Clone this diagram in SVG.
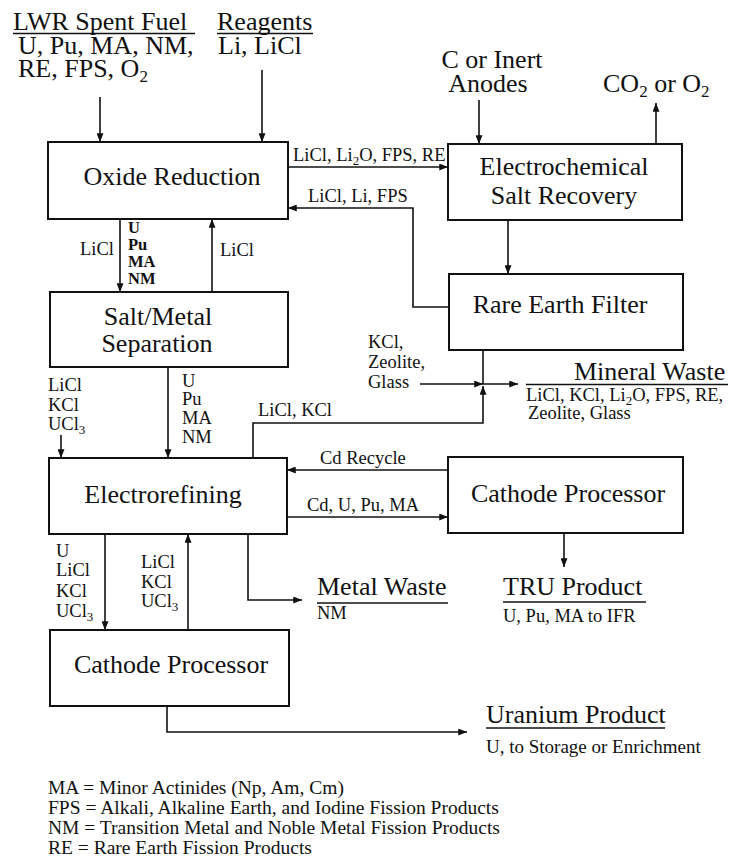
<svg xmlns="http://www.w3.org/2000/svg" width="737" height="866" viewBox="0 0 737 866">
<style>
text{font-family:"Liberation Serif","Times New Roman",serif;fill:#111}
.big{font-size:26px}
.box{font-size:26px;text-anchor:middle}
.sm{font-size:18.5px}
.b{font-size:16.5px;font-weight:bold}
.lg{font-size:19.5px}
rect{fill:#fff;stroke:#111;stroke-width:2}
.c line,.c path,.c polyline{fill:none;stroke:#111;stroke-width:1.6}
.ul{stroke:#111;stroke-width:1.6}
</style>
<defs>
<marker id="a" viewBox="0 0 10 8" refX="10" refY="4" markerWidth="9" markerHeight="7" markerUnits="userSpaceOnUse" orient="auto">
<path d="M0,0 L10,4 L0,8 z" fill="#111"/>
</marker>
</defs>
<g id="inputs">
<text class="big" x="13" y="30">LWR Spent Fuel</text>
<line class="ul" x1="13" y1="33.5" x2="195" y2="33.5"/>
<text class="big" x="18" y="54">U, Pu, MA, NM,</text>
<text class="big" x="18" y="77">RE, FPS, O<tspan font-size="17" dy="5">2</tspan></text>
<text class="big" x="217" y="30">Reagents</text>
<line class="ul" x1="217" y1="33.5" x2="313" y2="33.5"/>
<text class="big" x="218" y="54">Li, LiCl</text>
<text class="big" x="492" y="68" text-anchor="middle">C or Inert</text>
<text class="big" x="488" y="92" text-anchor="middle">Anodes</text>
<text class="big" x="603" y="92">CO<tspan font-size="17" dy="5">2</tspan><tspan dy="-5"> or O</tspan><tspan font-size="17" dy="5">2</tspan></text>
</g>
<g id="oxide-reduction"><rect x="48" y="142" width="240" height="77"/><text class="box" x="172" y="185">Oxide Reduction</text></g>
<g id="electrochemical-salt-recovery"><rect x="448" y="144" width="234" height="76"/><text class="box" x="564" y="175">Electrochemical</text><text class="box" x="564" y="204">Salt Recovery</text></g>
<g id="rare-earth-filter"><rect x="449" y="274" width="234" height="76"/><text class="box" x="560" y="313">Rare Earth Filter</text></g>
<g id="salt-metal-separation"><rect x="50" y="292" width="238" height="75"/><text class="box" x="158" y="325">Salt/Metal</text><text class="box" x="157" y="352">Separation</text></g>
<g id="electrorefining"><rect x="49" y="458" width="238" height="76"/><text class="box" x="163" y="503">Electrorefining</text></g>
<g id="cathode-processor-tru"><rect x="448" y="457" width="235" height="76"/><text class="box" x="568" y="502">Cathode Processor</text></g>
<g id="cathode-processor-u"><rect x="50" y="630" width="239" height="76"/><text class="box" x="171" y="673">Cathode Processor</text></g>
<g id="mineral-waste">
<text class="big" x="574" y="380">Mineral Waste</text>
<line class="ul" x1="526" y1="384.5" x2="728" y2="384.5"/>
<text class="sm" x="526" y="401">LiCl, KCl, Li<tspan font-size="13" dy="4">2</tspan><tspan dy="-4">O, FPS, RE,</tspan></text>
<text class="sm" x="528" y="419">Zeolite, Glass</text>
</g>
<g id="metal-waste">
<text class="big" x="317" y="595">Metal Waste</text>
<line class="ul" x1="317" y1="603" x2="448" y2="603"/>
<text class="sm" x="317" y="619">NM</text>
</g>
<g id="tru-product">
<text class="big" x="503" y="595">TRU Product</text>
<line class="ul" x1="503" y1="602" x2="646" y2="602"/>
<text class="sm" x="503" y="622" font-size="19.5">U, Pu, MA to IFR</text>
</g>
<g id="uranium-product">
<text class="big" x="486" y="723">Uranium Product</text>
<line class="ul" x1="486" y1="728" x2="665" y2="728"/>
<text class="sm" x="486" y="753" style="font-size:19px">U, to Storage or Enrichment</text>
</g>
<g id="connectors" class="c">
<line x1="100" y1="97" x2="100" y2="142" marker-end="url(#a)"/>
<line x1="262" y1="70" x2="262" y2="142" marker-end="url(#a)"/>
<line x1="479" y1="100" x2="479" y2="144" marker-end="url(#a)"/>
<line x1="656" y1="144" x2="656" y2="103" marker-end="url(#a)"/>
<line x1="288" y1="167" x2="448" y2="167" marker-end="url(#a)"/>
<polyline points="449,307 413,307 413,208 288,208" marker-end="url(#a)"/>
<line x1="508" y1="220" x2="508" y2="274" marker-end="url(#a)"/>
<line x1="483" y1="350" x2="483" y2="384"/>
<line x1="420" y1="384" x2="483" y2="384" marker-end="url(#a)"/>
<line x1="483" y1="384" x2="518" y2="384" marker-end="url(#a)"/>
<polyline points="253,458 253,423 483,423 483,386" marker-end="url(#a)"/>
<line x1="120" y1="219" x2="120" y2="292" marker-end="url(#a)"/>
<line x1="212" y1="292" x2="212" y2="219" marker-end="url(#a)"/>
<line x1="168" y1="367" x2="168" y2="458" marker-end="url(#a)"/>
<line x1="61" y1="435" x2="61" y2="458" marker-end="url(#a)"/>
<line x1="448" y1="470" x2="287" y2="470" marker-end="url(#a)"/>
<line x1="287" y1="517" x2="448" y2="517" marker-end="url(#a)"/>
<line x1="564" y1="533" x2="564" y2="567" marker-end="url(#a)"/>
<line x1="105" y1="534" x2="105" y2="630" marker-end="url(#a)"/>
<line x1="188" y1="630" x2="188" y2="534" marker-end="url(#a)"/>
<polyline points="248,534 248,600 302,600" marker-end="url(#a)"/>
<polyline points="167,706 167,732 467,732" marker-end="url(#a)"/>
</g>
<g id="connector-labels">
<text class="sm" x="293" y="161">LiCl, Li<tspan font-size="13" dy="4">2</tspan><tspan dy="-4">O, FPS, RE</tspan></text>
<text class="sm" x="308" y="202">LiCl, Li, FPS</text>
<text class="sm" x="368" y="348">KCl,</text>
<text class="sm" x="368" y="368">Zeolite,</text>
<text class="sm" x="368" y="388">Glass</text>
<text class="sm" x="258" y="416">LiCl, KCl</text>
<text class="sm" x="80" y="255">LiCl</text>
<text class="b" x="128" y="233">U</text>
<text class="b" x="128" y="250">Pu</text>
<text class="b" x="128" y="267">MA</text>
<text class="b" x="128" y="284">NM</text>
<text class="sm" x="220" y="256">LiCl</text>
<text class="sm" x="48" y="391">LiCl</text>
<text class="sm" x="48" y="411">KCl</text>
<text class="sm" x="48" y="430">UCl<tspan font-size="13" dy="4">3</tspan></text>
<text class="sm" x="182" y="387">U</text>
<text class="sm" x="182" y="405">Pu</text>
<text class="sm" x="182" y="424">MA</text>
<text class="sm" x="182" y="443">NM</text>
<text class="sm" x="320" y="464">Cd Recycle</text>
<text class="sm" x="307" y="511">Cd, U, Pu, MA</text>
<text class="sm" x="56" y="557">U</text>
<text class="sm" x="56" y="576">LiCl</text>
<text class="sm" x="56" y="597">KCl</text>
<text class="sm" x="56" y="617">UCl<tspan font-size="13" dy="4">3</tspan></text>
<text class="sm" x="141" y="568">LiCl</text>
<text class="sm" x="141" y="588">KCl</text>
<text class="sm" x="141" y="607">UCl<tspan font-size="13" dy="4">3</tspan></text>
</g>
<g id="legend">
<text class="lg" x="48" y="794">MA = Minor Actinides (Np, Am, Cm)</text>
<text class="lg" x="48" y="814">FPS = Alkali, Alkaline Earth, and Iodine Fission Products</text>
<text class="lg" x="48" y="834">NM = Transition Metal and Noble Metal Fission Products</text>
<text class="lg" x="48" y="854">RE = Rare Earth Fission Products</text>
</g>
</svg>
